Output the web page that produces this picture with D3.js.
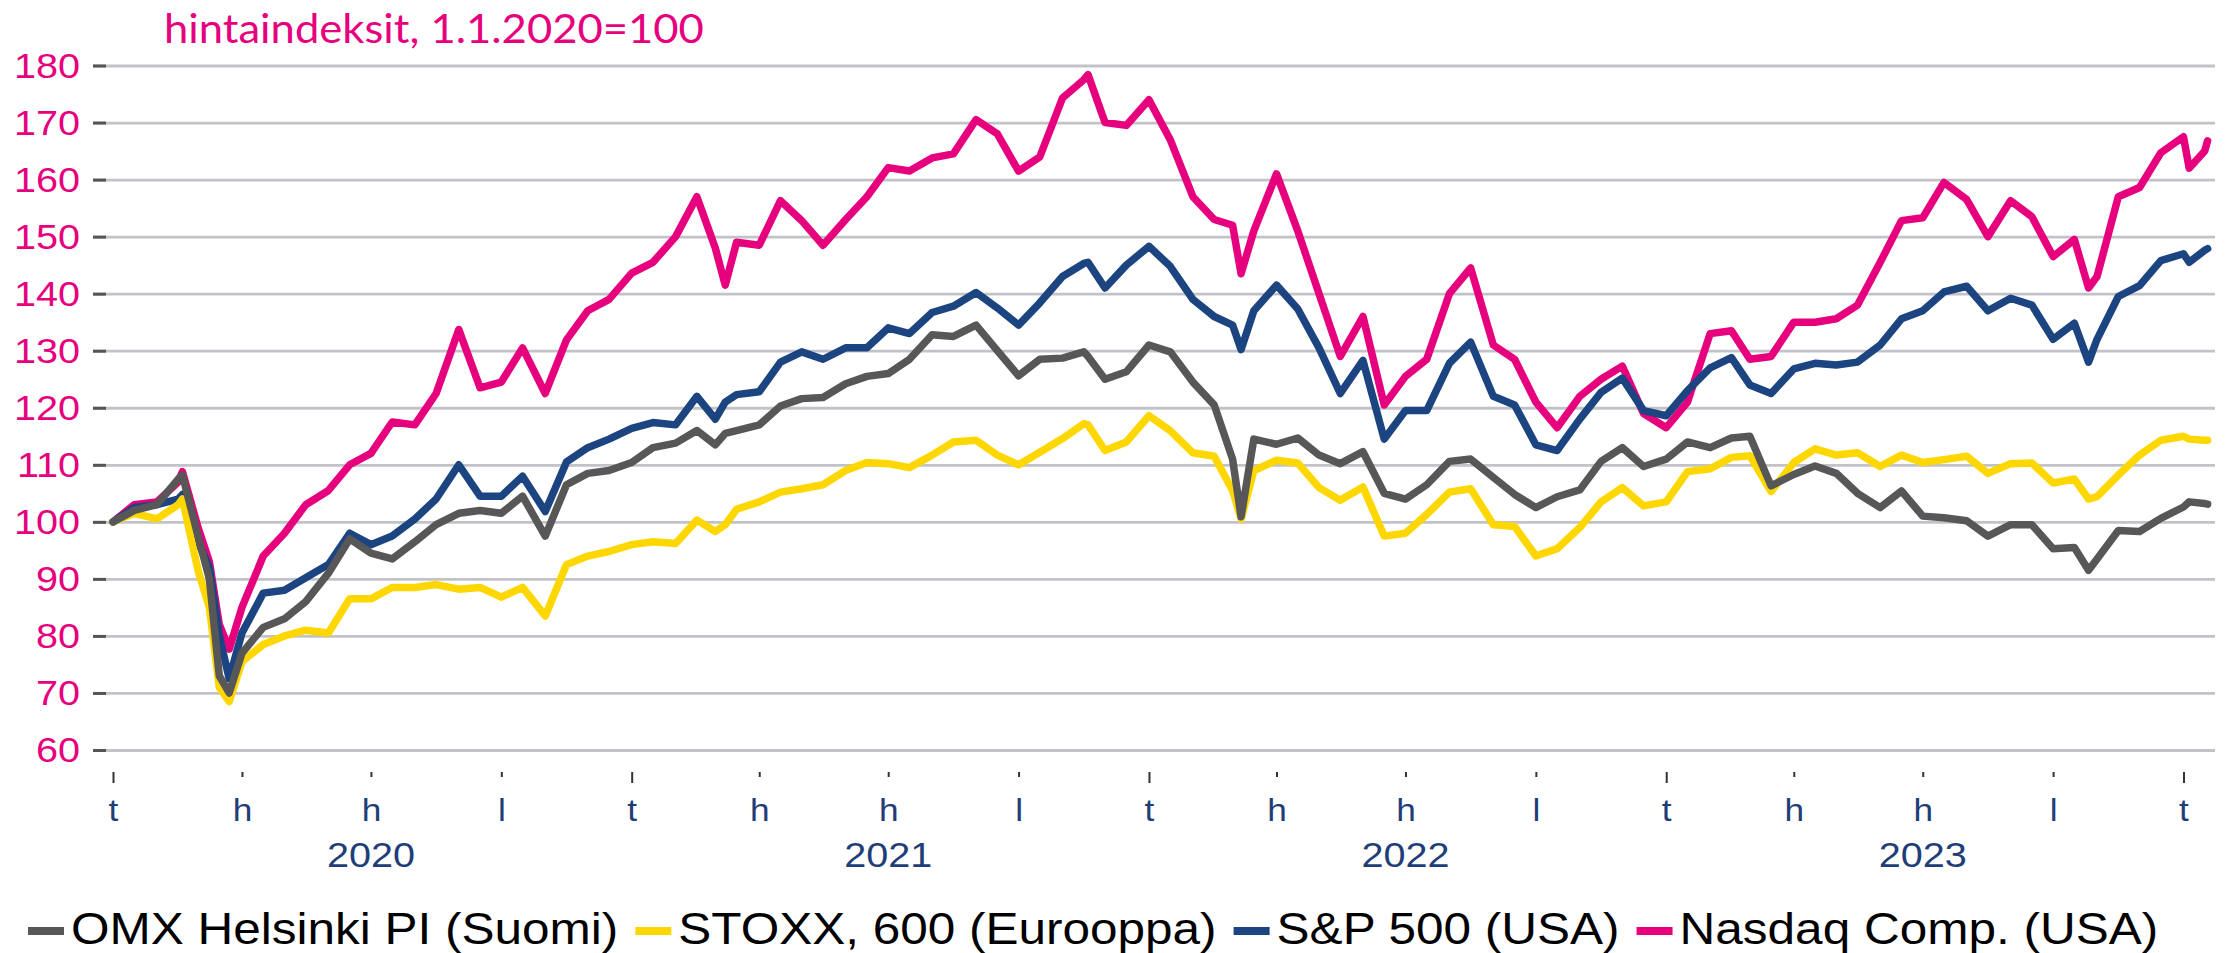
<!DOCTYPE html>
<html>
<head>
<meta charset="utf-8">
<script src="https://cdn.jsdelivr.net/npm/d3@7"></script>
<style>
  body { margin: 0; background: #fff; }
  svg { display: block; }
  text { font-family: "Liberation Sans", Arial, sans-serif; }
</style>
</head>
<body>
<div id="chart"></div>
<script>
// data (price indices, 1.1.2020 = 100)
const dates = [
  "2020-01-01","2020-01-16","2020-02-01","2020-02-16","2020-02-19","2020-03-01","2020-03-09","2020-03-16","2020-03-23",
  "2020-04-01","2020-04-16","2020-05-01","2020-05-16","2020-06-01","2020-06-16","2020-07-01","2020-07-16","2020-08-01",
  "2020-08-16","2020-09-01","2020-09-16","2020-10-01","2020-10-16","2020-11-01","2020-11-16","2020-12-01","2020-12-16",
  "2021-01-01","2021-01-16","2021-02-01","2021-02-16","2021-03-01","2021-03-08","2021-03-16","2021-04-01","2021-04-16",
  "2021-05-01","2021-05-16","2021-06-01","2021-06-16","2021-07-01","2021-07-16","2021-08-01","2021-08-16","2021-09-01",
  "2021-09-16","2021-10-01","2021-10-16","2021-11-01","2021-11-16","2021-11-19","2021-12-01","2021-12-16",
  "2022-01-01","2022-01-16","2022-02-01","2022-02-16","2022-03-01","2022-03-07","2022-03-16","2022-04-01","2022-04-16",
  "2022-05-01","2022-05-16","2022-06-01","2022-06-16","2022-07-01","2022-07-16","2022-08-01","2022-08-16","2022-09-01",
  "2022-09-16","2022-10-01","2022-10-16","2022-11-01","2022-11-16","2022-12-01","2022-12-16",
  "2023-01-01","2023-01-16","2023-02-01","2023-02-16","2023-03-01","2023-03-16","2023-04-01","2023-04-16","2023-05-01",
  "2023-05-16","2023-06-01","2023-06-16","2023-07-01","2023-07-16","2023-08-01","2023-08-16","2023-09-01","2023-09-16",
  "2023-10-01","2023-10-16","2023-10-26","2023-11-01","2023-11-16","2023-12-01","2023-12-16",
  "2024-01-01","2024-01-05","2024-01-16","2024-01-18"
];

const omx = [
  100,102,103,107.5,108.2,97.5,90,73,70,
  77,81.5,83,86,91,97,94.5,93.5,96.5,
  99.5,101.5,102,101.5,104.5,97.5,106.5,108.5,109,
  110.4,113,113.8,116,113.5,115.5,116,117,120.3,
  121.6,121.8,124.2,125.5,126,128.5,132.8,132.5,134.5,
  130,125.6,128.5,128.7,129.8,129,125,126.3,
  131,129.8,124.5,120.5,111,100.9,114.5,113.6,114.7,
  111.7,110.2,112.3,105,104,106.5,110.6,111,107.8,
  104.8,102.5,104.4,105.6,110.6,113,109.7,
  111,114,113,114.7,115,106.3,108.3,109.8,108.5,
  105,102.5,105.4,101,100.7,100.2,97.5,99.5,99.5,
  95.3,95.5,91.5,93.5,98.5,98.3,100.6,
  102.6,103.5,103.2,103.1
];

const stoxx = [
  100,101.5,100.5,103,104,91.5,85,71,68.5,
  75.5,78.5,80,81,80.5,86.5,86.5,88.5,88.5,
  89,88.2,88.5,86.8,88.5,83.5,92.5,94,94.8,
  96,96.5,96.2,100.3,98.3,99.5,102.2,103.5,105.2,
  105.8,106.5,109,110.4,110.2,109.5,111.7,114,114.3,
  111.7,110,112.2,114.6,117.2,117,112.5,114,
  118.6,116,112.1,111.5,105.5,100.5,109,110.8,110.3,
  106,103.8,106.1,97.5,98,101.3,105.2,105.8,99.5,
  99.2,94,95.3,99,103.5,106,102.8,
  103.5,108.8,109.3,111.3,111.6,105.3,110.4,112.8,111.7,
  112.1,109.7,111.7,110.4,110.9,111.5,108.5,110.2,110.3,
  106.8,107.5,104,104.4,108.2,111.7,114.3,
  115,114.5,114.3,114.3
];

const sp500 = [
  100,102.5,103,104,104.8,96.5,92,80,72.5,
  80.5,87.5,88,90.2,92.5,98,96,97.5,100.5,
  104,110,104.5,104.5,108,101.8,110.5,113,114.5,
  116.4,117.4,117,122,118,121,122.3,122.8,128,
  129.8,128.5,130.5,130.5,134,133,136.7,137.8,140.2,
  137.5,134.5,138.4,143,145.3,145.5,141,145,
  148.3,144.8,139,136,134.5,130.2,137,141.5,137.3,
  130.5,122.5,128.3,114.5,119.5,119.5,127.8,131.5,122,
  120.5,113.5,112.5,118,122.7,125.2,119.5,
  118.6,123,127,128.8,124,122.5,126.8,127.8,127.5,
  128,131,135.6,137,140.3,141.3,137,139.2,138,
  132,134.8,128,132,139.5,141.4,145.8,
  147,145.5,147.6,147.9
];

const nasdaq = [
  100,103,103.5,107,108.8,99,93,82,77.7,
  85,94,98,103,105.5,110,112,117.5,117,
  122.5,133.7,123.5,124.5,130.5,122.5,131.9,137,139,
  143.6,145.5,150,157,148,141.5,149,148.5,156.3,
  152.8,148.5,153,157,162.1,161.5,163.8,164.5,170.5,
  168,161.5,164,174.3,177.5,178.4,170,169.5,
  174,167,157,153,152,143.5,151,161,151,
  140,129,136,120.5,125.5,128.5,140,144.5,131,
  128.5,121,116.5,122,125,127.3,119,
  116.5,121,133,133.5,128.5,129,135,135,135.6,
  138,145.5,152.8,153.3,159.5,156.5,150,156.3,153.5,
  146.5,149.5,141,143,157,158.6,164.7,
  167.5,162,165,166.8
];

const seriesNames = ["OMX Helsinki PI (Suomi)", "STOXX, 600 (Eurooppa)", "S&P 500 (USA)", "Nasdaq Comp. (USA)"];
const seriesValues = [omx, stoxx, sp500, nasdaq];
const seriesColors = ["#575757", "#FFD700", "#1B4480", "#E6007E"];

const yTicks = [60, 70, 80, 90, 100, 110, 120, 130, 140, 150, 160, 170, 180];
const monthLetters = ["t", "h", "h", "l"]; // tammi, huhti, heinä, loka
const years = [2020, 2021, 2022, 2023];
const titleText = "hintaindeksit, 1.1.2020=100";

// ---- layout
const W = 2226, H = 953;
const gridLeft = 93, gridRight = 2215;
const pink = "#E6007E", navy = "#1F3E78";
const sx = 1.1; // the original text is a little wide

const parse = d3.timeParse("%Y-%m-%d");
const dateObjs = dates.map(parse);

const svg = d3.select("#chart")
  .append("svg")
    .attr("width", W)
    .attr("height", H);

const x = d3.scaleTime()
  .domain([new Date(2020, 0, 1), new Date(2024, 0, 1)])
  .range([113, 2183.5]);

const y = d3.scaleLinear()
  .domain([60, 180])
  .range([750, 65.5]);

// horizontal gridlines
const grid = svg.append("g")
  .attr("transform", `translate(${gridLeft},0)`)
  .call(d3.axisLeft(y)
    .tickValues(yTicks)
    .tickSize(-(gridRight - gridLeft))
    .tickFormat(""));
grid.select(".domain").remove();
grid.selectAll(".tick line")
  .attr("stroke", "#c2c3c8")
  .attr("stroke-width", 2.8);

// y axis dashes + labels
const yAxis = svg.append("g")
  .attr("transform", "translate(106,0)")
  .call(d3.axisLeft(y)
    .tickValues(yTicks)
    .tickSize(13)
    .tickPadding(13));
yAxis.select(".domain").remove();
yAxis.selectAll(".tick line")
  .attr("stroke", "#555")
  .attr("stroke-width", 3);
yAxis.selectAll(".tick text")
  .attr("x", -26 / sx)
  .attr("transform", `scale(${sx},1)`)
  .attr("fill", pink)
  .style("font-size", "36px");

// x axis: quarterly ticks
const quarters = d3.timeMonth.every(3).range(new Date(2020, 0, 1), new Date(2024, 0, 2));
const xAxis = svg.append("g")
  .attr("transform", "translate(0,772)")
  .call(d3.axisBottom(x)
    .tickValues(quarters)
    .tickSize(5)
    .tickFormat(d => monthLetters[d.getMonth() / 3]));
xAxis.select(".domain").remove();
xAxis.selectAll(".tick line")
  .attr("stroke", "#333")
  .attr("stroke-width", 2)
  .attr("y2", d => d.getMonth() === 0 ? 11 : 5);
xAxis.selectAll(".tick text")
  .attr("y", 26)
  .attr("transform", `scale(${sx},1)`)
  .attr("fill", navy)
  .style("font-size", "32px");

// year labels under mid-year
svg.append("g")
  .selectAll("text")
  .data(years)
  .join("text")
    .attr("transform", d => `translate(${x(new Date(d, 6, 1))},867) scale(${sx},1)`)
    .attr("text-anchor", "middle")
    .attr("fill", navy)
    .style("font-size", "36px")
    .text(d => d);

// the lines, Nasdaq drawn first so that OMX ends on top
const line = d3.line()
  .x((d, i) => x(dateObjs[i]))
  .y(d => y(d));

svg.append("g")
  .selectAll("path")
  .data(d3.range(seriesValues.length).reverse())
  .join("path")
    .attr("fill", "none")
    .attr("stroke", i => seriesColors[i])
    .attr("stroke-width", 7.5)
    .attr("stroke-linejoin", "round")
    .attr("stroke-linecap", "round")
    .attr("d", i => line(seriesValues[i]));

// title
const title = svg.append("text")
  .attr("fill", pink)
  .style("font-family", "Lato, 'Open Sans', sans-serif")
  .style("font-size", "41px")
  .text(titleText);
const tw = title.node().getComputedTextLength();
title.attr("transform", `translate(164,43) scale(${540 / tw},1)`);

// legend
let lx = 28;
seriesNames.forEach((name, i) => {
  svg.append("rect")
    .attr("x", lx)
    .attr("y", 927)
    .attr("width", 36)
    .attr("height", 8)
    .attr("fill", seriesColors[i]);
  const t = svg.append("text")
    .attr("transform", `translate(${lx + 43},944) scale(${sx},1)`)
    .attr("fill", "#000")
    .style("font-size", "45px")
    .text(name);
  lx = lx + 43 + t.node().getComputedTextLength() * sx + 17;
});
</script>
</body>
</html>
